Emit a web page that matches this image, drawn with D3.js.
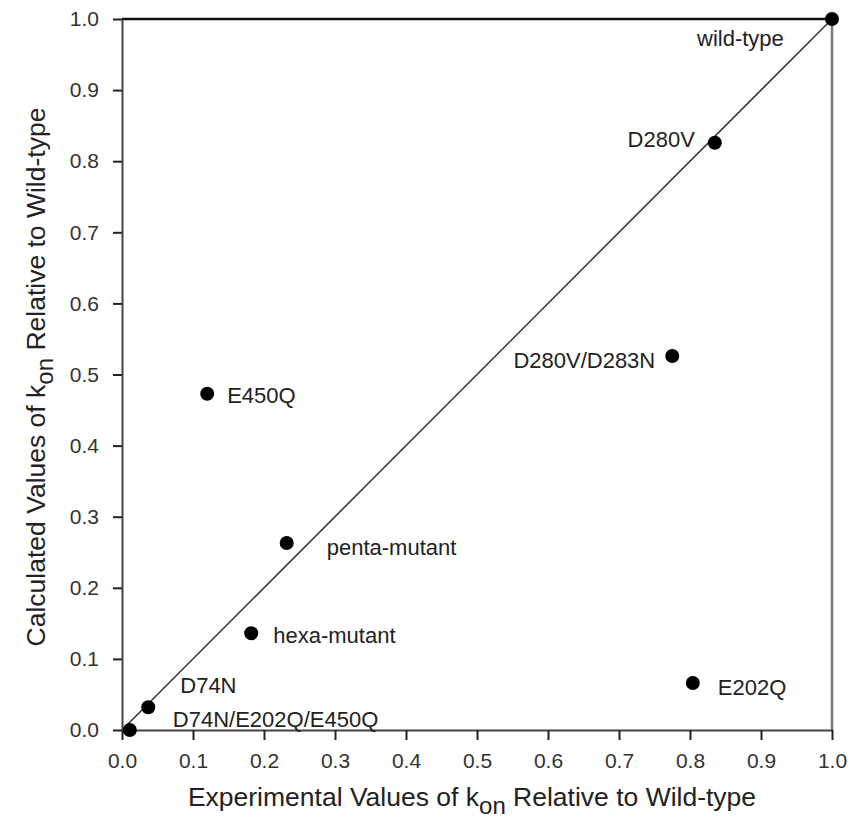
<!DOCTYPE html>
<html>
<head>
<meta charset="utf-8">
<script src="https://cdn.jsdelivr.net/npm/d3@7"></script>
<style>
  body { margin: 0; background: #fff; }
  svg { font-family: "Liberation Sans", Arial, sans-serif; }
</style>
</head>
<body>
<svg id="chart" width="863" height="818"></svg>
<script>
// mutant names and values (relative to wild-type)
var mutants = ["wild-type", "D280V", "D280V/D283N", "E450Q", "penta-mutant",
               "hexa-mutant", "D74N", "D74N/E202Q/E450Q", "E202Q"];
var experimental = [1.0, 0.835, 0.775, 0.120, 0.232, 0.182, 0.037, 0.011, 0.804];
var calculated   = [1.0, 0.826, 0.526, 0.473, 0.263, 0.136, 0.032, 0.0, 0.066];
var tickValues = [0.0, 0.1, 0.2, 0.3, 0.4, 0.5, 0.6, 0.7, 0.8, 0.9, 1.0];

var points = mutants.map(function(m, i) {
  return {name: m, x: experimental[i], y: calculated[i]};
});

// label placement, pixel offsets from the dot
var labelPos = {
  "wild-type":        {dx: -135, dy: 27, anchor: "start"},
  "D280V":            {dx: -20, dy: 4, anchor: "end"},
  "D280V/D283N":      {dx: -17, dy: 12, anchor: "end"},
  "E450Q":            {dx: 20, dy: 9, anchor: "start"},
  "penta-mutant":     {dx: 40, dy: 12, anchor: "start"},
  "hexa-mutant":      {dx: 22, dy: 10, anchor: "start"},
  "D74N":             {dx: 32, dy: -14, anchor: "start"},
  "D74N/E202Q/E450Q": {dx: 43, dy: -3, anchor: "start"},
  "E202Q":            {dx: 25, dy: 12, anchor: "start"}
};

var svg = d3.select("#chart");
var x = d3.scaleLinear().domain([0, 1]).range([122, 832]);
var y = d3.scaleLinear().domain([0, 1]).range([730, 19]);
var axisColor = "#444";
var textColor = "#222";

// frame: top black, right gray
svg.append("line")
  .attr("x1", x(0)).attr("x2", x(1)).attr("y1", y(1)).attr("y2", y(1))
  .attr("stroke", "#111").attr("stroke-width", 2.5);
svg.append("line")
  .attr("x1", x(1)).attr("x2", x(1)).attr("y1", y(1)).attr("y2", y(0))
  .attr("stroke", "#777").attr("stroke-width", 2.5);

var xAxis = svg.append("g")
  .attr("transform", "translate(0," + y(0) + ")")
  .call(d3.axisBottom(x).tickValues(tickValues).tickFormat(d3.format(".1f"))
        .tickSize(10).tickPadding(13).tickSizeOuter(0));
var yAxis = svg.append("g")
  .attr("transform", "translate(" + x(0) + ",0)")
  .call(d3.axisLeft(y).tickValues(tickValues).tickFormat(d3.format(".1f"))
        .tickSize(9).tickPadding(14).tickSizeOuter(0));

[xAxis, yAxis].forEach(function(g) {
  g.select(".domain").attr("stroke", axisColor).attr("stroke-width", 2);
  g.selectAll(".tick line").attr("stroke", "#222").attr("stroke-width", 2);
  g.selectAll(".tick text").attr("fill", "#333").style("font-size", "21px")
    .style("font-family", "Liberation Sans, Arial, sans-serif");
});

// identity line
svg.append("line")
  .attr("x1", x(0)).attr("y1", y(0)).attr("x2", x(1)).attr("y2", y(1))
  .attr("stroke", "#333").attr("stroke-width", 1.5);

// points
svg.selectAll("circle.pt")
  .data(points)
  .enter()
  .append("circle")
  .attr("class", "pt")
  .attr("cx", function(d) { return x(d.x); })
  .attr("cy", function(d) { return y(d.y); })
  .attr("r", 7)
  .attr("fill", "#000");

// point labels
svg.selectAll("text.lbl")
  .data(points)
  .enter()
  .append("text")
  .attr("class", "lbl")
  .attr("x", function(d) { return x(d.x) + labelPos[d.name].dx; })
  .attr("y", function(d) { return y(d.y) + labelPos[d.name].dy; })
  .attr("text-anchor", function(d) { return labelPos[d.name].anchor; })
  .attr("fill", textColor)
  .style("font-size", "22px")
  .text(function(d) { return d.name; });

// axis titles with k_on subscript
function title(sel, before, after) {
  sel.append("tspan").text(before);
  sel.append("tspan").text("k");
  sel.append("tspan").attr("dy", 8).style("font-size", "24px").text("on");
  sel.append("tspan").attr("dy", -8).text(" " + after);
}
var xt = svg.append("text")
  .attr("x", 472).attr("y", 806)
  .attr("text-anchor", "middle").attr("fill", textColor)
  .style("font-size", "26.5px");
title(xt, "Experimental Values of ", "Relative to Wild-type");

var yt = svg.append("text")
  .attr("transform", "translate(45,377) rotate(-90)")
  .attr("text-anchor", "middle").attr("fill", textColor)
  .style("font-size", "26.5px");
title(yt, "Calculated Values of ", "Relative to Wild-type");
</script>
</body>
</html>
